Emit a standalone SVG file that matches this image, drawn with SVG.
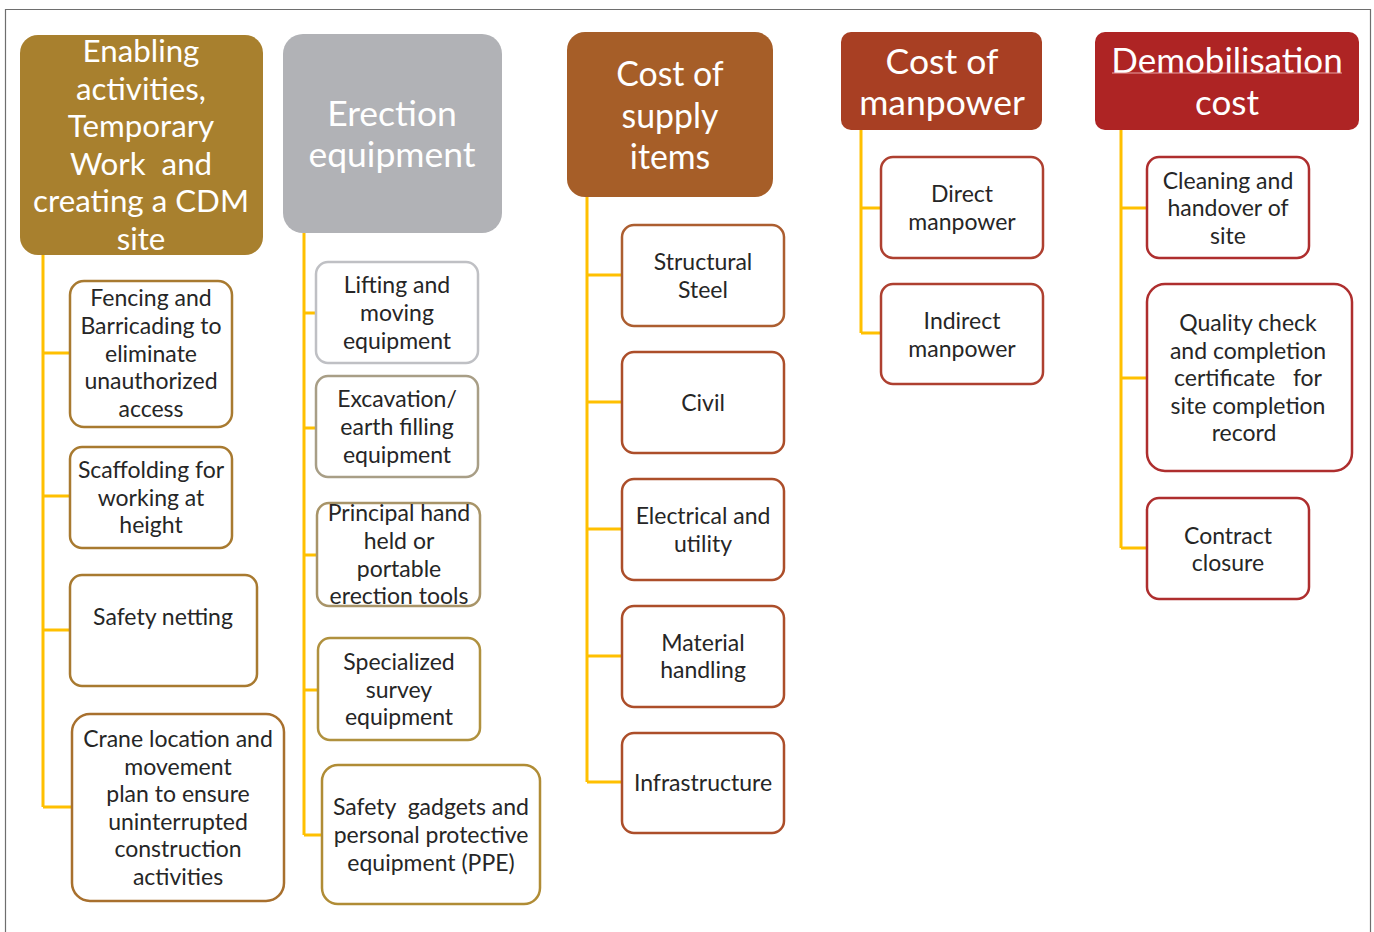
<svg xmlns="http://www.w3.org/2000/svg" width="1374" height="932" viewBox="0 0 1374 932">
  <style>
    text { font-family: Lato, "Noto Sans", "Liberation Sans", sans-serif; text-anchor: middle; dominant-baseline: central; }
    .head { fill: #FFFFFF; font-size: 31.3px; }
    .headL { fill: #FFFFFF; font-size: 35.5px; }
    .headM { fill: #FFFFFF; font-size: 33.8px; }
    .item { fill: #262626; font-size: 23px; }
    .box { fill: #FFFFFF; stroke-width: 2.5; }
    .link { fill: none; stroke: #FFC000; stroke-width: 3; }
  </style>

  <!-- outer frame -->
  <path d="M5.5,932 V9.5 H1370.5 V932" fill="none" stroke="#6E6E6E" stroke-width="1.2"/>

  <!-- connectors -->
  <g id="connectors">
    <path class="link" d="M43,255 V807 M43,353 H70 M43,496 H70 M43,630 H70 M43,807 H72"/>
    <path class="link" d="M304,233 V835 M304,313 H316 M304,428 H316 M304,555 H317 M304,690 H318 M304,835 H322"/>
    <path class="link" d="M587,197 V782 M587,275 H622 M587,402 H622 M587,529 H622 M587,656 H622 M587,782 H622"/>
    <path class="link" d="M861,130 V333 M861,208 H881 M861,333 H881"/>
    <path class="link" d="M1121,130 V548 M1121,208 H1147 M1121,378 H1147 M1121,548 H1147"/>
  </g>

  <!-- column 1 -->
  <g id="enabling">
    <rect x="20" y="35" width="243" height="220" rx="18" fill="#A8802E"/>
    <text class="head" x="141" y="50">Enabling</text>
    <text class="head" x="141" y="87.5">activities,</text>
    <text class="head" x="141" y="125">Temporary</text>
    <text class="head" x="141" y="162.5" xml:space="preserve">Work  and</text>
    <text class="head" x="141" y="200">creating a CDM</text>
    <text class="head" x="141" y="238">site</text>
  </g>
  <g id="fencing">
    <rect class="box" x="70" y="281" width="162" height="146" rx="14" stroke="#A87A30"/>
    <text class="item" x="151" y="297">Fencing and</text>
    <text class="item" x="151" y="325">Barricading to</text>
    <text class="item" x="151" y="353">eliminate</text>
    <text class="item" x="151" y="380">unauthorized</text>
    <text class="item" x="151" y="408">access</text>
  </g>
  <g id="scaffolding">
    <rect class="box" x="70" y="447" width="162" height="101" rx="12" stroke="#A87A30"/>
    <text class="item" x="151" y="469">Scaffolding for</text>
    <text class="item" x="151" y="497">working at</text>
    <text class="item" x="151" y="524">height</text>
  </g>
  <g id="safety-netting">
    <rect class="box" x="70" y="575" width="187" height="111" rx="12" stroke="#A87A30"/>
    <text class="item" x="163" y="616">Safety netting</text>
  </g>
  <g id="crane">
    <rect class="box" x="72" y="714" width="212" height="187" rx="18" stroke="#A8702E"/>
    <text class="item" x="178" y="738">Crane location and</text>
    <text class="item" x="178" y="766">movement</text>
    <text class="item" x="178" y="793">plan to ensure</text>
    <text class="item" x="178" y="821">uninterrupted</text>
    <text class="item" x="178" y="848">construction</text>
    <text class="item" x="178" y="876">activities</text>
  </g>

  <!-- column 2 -->
  <g id="erection">
    <rect x="283" y="34" width="219" height="199" rx="20" fill="#B1B2B6"/>
    <text class="headL" x="392" y="112" fill="#F4F4F4">Erection</text>
    <text class="headL" x="392" y="153" fill="#F4F4F4">equipment</text>
  </g>
  <g id="lifting">
    <rect class="box" x="316" y="262" width="162" height="101" rx="12" stroke="#BFC0C4"/>
    <text class="item" x="397" y="284">Lifting and</text>
    <text class="item" x="397" y="312">moving</text>
    <text class="item" x="397" y="340">equipment</text>
  </g>
  <g id="excavation">
    <rect class="box" x="316" y="376" width="162" height="101" rx="12" stroke="#A89E86"/>
    <text class="item" x="397" y="398">Excavation/</text>
    <text class="item" x="397" y="426">earth filling</text>
    <text class="item" x="397" y="454">equipment</text>
  </g>
  <g id="hand-tools">
    <rect class="box" x="317" y="503" width="163" height="103" rx="12" stroke="#A89468"/>
    <text class="item" x="399" y="512">Principal hand</text>
    <text class="item" x="399" y="540">held or</text>
    <text class="item" x="399" y="568">portable</text>
    <text class="item" x="399" y="595">erection tools</text>
  </g>
  <g id="survey">
    <rect class="box" x="318" y="638" width="162" height="102" rx="12" stroke="#B0913E"/>
    <text class="item" x="399" y="661">Specialized</text>
    <text class="item" x="399" y="689">survey</text>
    <text class="item" x="399" y="716">equipment</text>
  </g>
  <g id="ppe">
    <rect class="box" x="322" y="765" width="218" height="139" rx="16" stroke="#B08C35"/>
    <text class="item" x="431" y="806" xml:space="preserve">Safety  gadgets and</text>
    <text class="item" x="431" y="834">personal protective</text>
    <text class="item" x="431" y="862">equipment (PPE)</text>
  </g>

  <!-- column 3 -->
  <g id="supply">
    <rect x="567" y="32" width="206" height="165" rx="18" fill="#A65E28"/>
    <text class="headM" x="670" y="73">Cost of</text>
    <text class="headM" x="670" y="115">supply</text>
    <text class="headM" x="670" y="156">items</text>
  </g>
  <g id="steel">
    <rect class="box" x="622" y="225" width="162" height="101" rx="12" stroke="#AC5E30"/>
    <text class="item" x="703" y="261">Structural</text>
    <text class="item" x="703" y="289">Steel</text>
  </g>
  <g id="civil">
    <rect class="box" x="622" y="352" width="162" height="101" rx="12" stroke="#AC4E2A"/>
    <text class="item" x="703" y="402">Civil</text>
  </g>
  <g id="electrical">
    <rect class="box" x="622" y="479" width="162" height="101" rx="12" stroke="#AC4E2A"/>
    <text class="item" x="703" y="515">Electrical and</text>
    <text class="item" x="703" y="543">utility</text>
  </g>
  <g id="material">
    <rect class="box" x="622" y="606" width="162" height="101" rx="12" stroke="#AC4E2A"/>
    <text class="item" x="703" y="642">Material</text>
    <text class="item" x="703" y="669">handling</text>
  </g>
  <g id="infrastructure">
    <rect class="box" x="622" y="733" width="162" height="100" rx="12" stroke="#AC4E2A"/>
    <text class="item" x="703" y="782">Infrastructure</text>
  </g>

  <!-- column 4 -->
  <g id="manpower">
    <rect x="841" y="32" width="201" height="98" rx="10" fill="#A83F23"/>
    <text class="headL" x="942" y="60">Cost of</text>
    <text class="headL" x="942" y="101">manpower</text>
  </g>
  <g id="direct">
    <rect class="box" x="881" y="157" width="162" height="101" rx="12" stroke="#AE4030"/>
    <text class="item" x="962" y="193">Direct</text>
    <text class="item" x="962" y="221">manpower</text>
  </g>
  <g id="indirect">
    <rect class="box" x="881" y="284" width="162" height="100" rx="12" stroke="#AE4030"/>
    <text class="item" x="962" y="320">Indirect</text>
    <text class="item" x="962" y="348">manpower</text>
  </g>

  <!-- column 5 -->
  <g id="demobilisation">
    <rect x="1095" y="32" width="264" height="98" rx="10" fill="#AE2424"/>
    <text class="headL" x="1227" y="59" style="font-size:35px">Demobilisation</text>
    <line x1="1112" y1="73" x2="1342" y2="73" stroke="#E8A0A0" stroke-width="1"/>
    <text class="headL" x="1227" y="101" style="font-size:35px">cost</text>
  </g>
  <g id="cleaning">
    <rect class="box" x="1147" y="157" width="162" height="101" rx="12" stroke="#AE2E2E"/>
    <text class="item" x="1228" y="180">Cleaning and</text>
    <text class="item" x="1228" y="207">handover of</text>
    <text class="item" x="1228" y="235">site</text>
  </g>
  <g id="quality">
    <rect class="box" x="1147" y="284" width="205" height="187" rx="18" stroke="#AE2E2E"/>
    <text class="item" x="1248" y="322">Quality check</text>
    <text class="item" x="1248" y="350">and completion</text>
    <text class="item" x="1248" y="377" xml:space="preserve">certificate   for</text>
    <text class="item" x="1248" y="405">site completion</text>
    <text class="item" x="1244" y="432">record</text>
  </g>
  <g id="closure">
    <rect class="box" x="1147" y="498" width="162" height="101" rx="12" stroke="#AE2E2E"/>
    <text class="item" x="1228" y="535">Contract</text>
    <text class="item" x="1228" y="562">closure</text>
  </g>
</svg>
